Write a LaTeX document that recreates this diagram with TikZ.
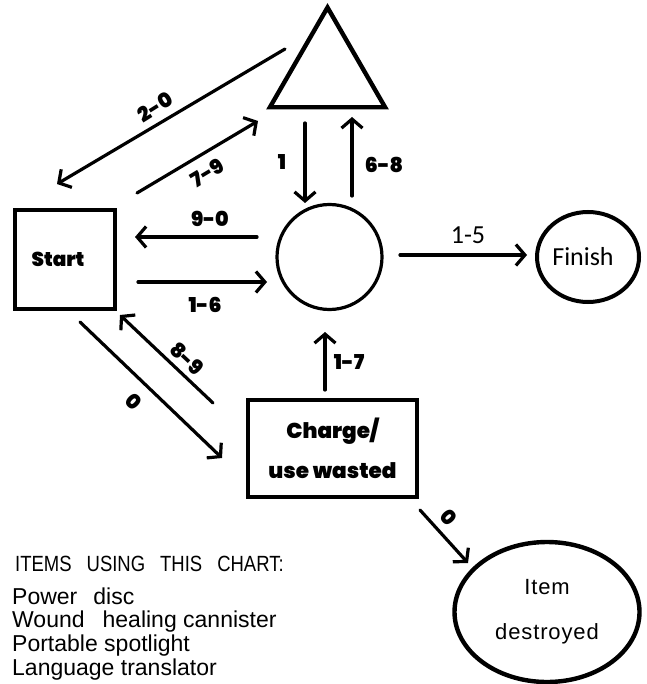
\documentclass[tikz,border=0pt]{standalone}
\usepackage{fontspec}
\setmainfont{Liberation Sans}
\newfontfamily\geofont{Poppins}[BoldFont={Poppins Black}]
\newfontfamily\calfont{Carlito}
\newfontfamily\narrowfont{Liberation Sans}[FakeStretch=0.84]
\usetikzlibrary{shapes.geometric,arrows.meta,calc}
\begin{document}
\begin{tikzpicture}[x=1pt,y=-1pt,
  conn/.style={line width=3.2pt, line cap=round, -{Straight Barb[length=9pt,width=21pt]}},
  lab/.style={font=\geofont\bfseries\fontsize{20.5}{20.5}\selectfont, inner sep=0},
  nlab/.style={font=\calfont\fontsize{26}{26}\selectfont, inner sep=0},
  boxnode/.style={draw, line width=3.4pt, inner sep=0, font=\geofont\bfseries\fontsize{20}{20}\selectfont},
  listline/.style={anchor=base west, inner sep=0, font=\fontsize{23}{23}\selectfont}]
\useasboundingbox (0,0) rectangle (646,684);

% nodes
\node[draw, regular polygon, regular polygon sides=3, minimum size=133pt, inner sep=0, line width=4.4pt] (tri) at (327.5,74) {};
\node[boxnode, minimum width=100pt, minimum height=99pt] (start) at (65,259.5) {Start\hspace*{14pt}};
\node[draw, circle, line width=3.2pt, minimum size=105pt, inner sep=0] (mid) at (329.5,257) {};
\node[draw, ellipse, line width=4pt, minimum width=102pt, minimum height=90pt, inner sep=0, font=\calfont\fontsize{26}{26}\selectfont] (fin) at (588,257) {Finish\hspace*{10pt}};
\node[boxnode, minimum width=169pt, minimum height=97pt, align=center, font=\geofont\bfseries\fontsize{21.5}{40}\selectfont] (chg) at (332.5,448.5) {Charge/\\use wasted};
\node[draw, ellipse, line width=4.4pt, minimum width=185pt, minimum height=140pt, inner sep=0, align=center, font=\addfontfeature{LetterSpace=4}\fontsize{22}{45}\selectfont] (des) at (547,612) {Item\\destroyed};

% connectors
\draw[conn] ($(tri)+(-42.5,-25)$) -- node[lab, shift={(-16,-9.5)}, rotate=32] {2-0} ($(start)+(-8,-75.5)$);
\draw[conn] ($(start)+(72,-66.5)$) -- node[lab, shift={(9.5,16)}, rotate=31] {7-9} ($(tri)+(-69.5,47)$);
\draw[conn] ($(tri)+(-22.5,49)$) -- node[lab, shift={(-23,-1)}] {1} ($(mid)+(-24.5,-54)$);
\draw[conn] ($(mid)+(22.5,-61)$) -- node[lab, shift={(32,8.5)}] {6-8} ($(tri)+(24.5,43)$);
\draw[conn] ($(mid)+(-72.5,-20)$) -- node[lab, shift={(14,-18)}] {9-0} ($(start)+(70,-22.5)$);
\draw[conn] ($(start)+(73,22.5)$) -- node[lab, shift={(2.5,23)}] {1-6} ($(mid)+(-62.5,25)$);
\draw[conn] ($(chg)+(-119.5,-45.5)$) -- node[lab, shift={(20.5,0)}, rotate=-43] {8-9} ($(start)+(55,55.5)$);
\draw[conn] ($(start)+(15,62.5)$) -- node[lab, shift={(-17,12)}, rotate=-44] {0} ($(chg)+(-110.5,9.5)$);
\draw[conn] ($(chg)+(-7.5,-58.5)$) -- node[lab, shift={(24,1)}] {1-7} ($(mid)+(-4.5,75)$);
\draw[conn] ($(mid)+(70.5,-2)$) -- node[nlab, shift={(4.5,-20)}] {1-5} ($(fin)+(-61,-2)$);
\draw[conn] ($(chg)+(87.5,61.5)$) -- node[lab, shift={(5,-19.5)}, rotate=-48] {0} ($(des)+(-79,-49)$);

% item list
\node[anchor=base west, inner sep=0, font=\narrowfont\fontsize{22}{22}\selectfont] (hdr) at (15,571) {ITEMS\hspace*{15pt}USING\hspace*{15pt}THIS\hspace*{15pt}CHART:};
\node[listline] (l1) at (12,604) {Power\hspace*{16pt}disc};
\node[listline] (l2) at (12,627.5) {Wound\hspace*{18pt}healing cannister};
\node[listline] (l3) at (12,651) {Portable spotlight};
\node[listline] (l4) at (12,675) {Language translator};
\end{tikzpicture}
\end{document}
